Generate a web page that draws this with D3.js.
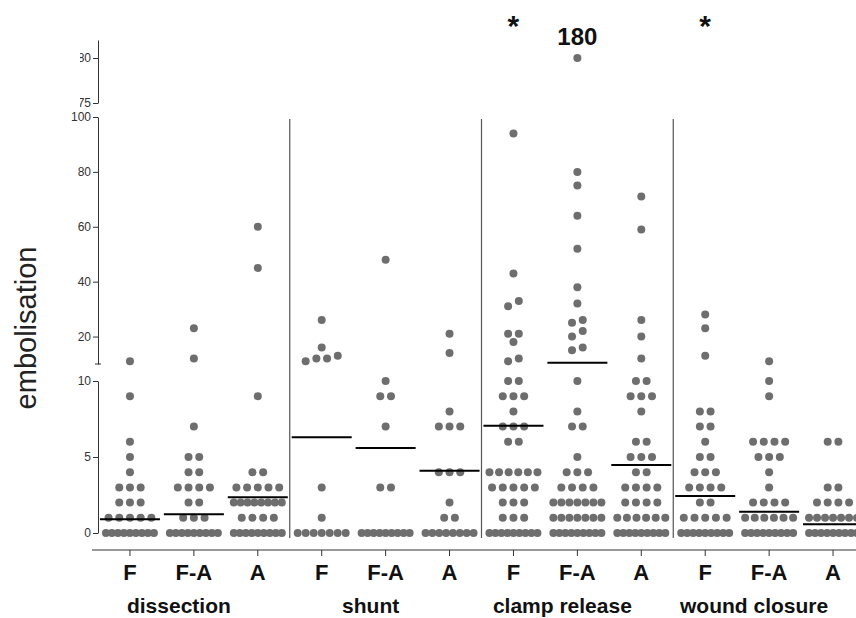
<!DOCTYPE html>
<html>
<head>
<meta charset="utf-8">
<script src="https://cdn.jsdelivr.net/npm/d3@7"></script>
<style>
  body { margin: 0; background: #fff; }
  svg { display: block; font-family: "Liberation Sans", Arial, Helvetica, sans-serif; }
</style>
</head>
<body>
<div id="chart"></div>
<script>
// Groups and sub-groups along the x axis
const groups = ["dissection", "shunt", "clamp release", "wound closure"];
const subgroups = ["F", "F-A", "A"];

// Embolisation counts per patient, one array per column
const dissectionF  = [0,0,0,0,0,0,0,0,0, 1,1,1,1,1, 2,2,2, 3,3,3, 4, 5, 6, 9, 11];
const dissectionFA = [0,0,0,0,0,0,0,0,0, 1,1,1, 2,2, 3,3,3,3, 4,4, 5,5, 7, 12, 23];
const dissectionA  = [0,0,0,0,0,0,0,0,0, 1,1,1,1, 2,2,2,2,2,2,2,2, 3,3,3,3,3, 4,4, 9, 45, 60];
const shuntF  = [0,0,0,0,0,0,0, 1, 3, 11, 12, 12, 13, 16, 26];
const shuntFA = [0,0,0,0,0,0,0,0,0, 3,3, 7, 9,9, 10, 48];
const shuntA  = [0,0,0,0,0,0,0,0, 1,1, 2, 4,4,4, 7,7,7, 8, 14, 21];
const clampF  = [0,0,0,0,0,0,0,0,0, 1,1,1, 2,2,2, 3,3,3,3,3, 4,4,4,4,4,4, 6,6, 7,7,7, 8, 9,9,9, 10,10, 11, 12, 18, 21, 21, 31, 33, 43, 94];
const clampFA = [0,0,0,0,0,0,0,0,0, 1,1,1,1,1,1,1, 2,2,2,2,2,2,2, 3,3,3,3, 4,4,4, 5, 7,7, 8, 10, 15, 16, 20, 22, 25, 26, 32, 38, 52, 64, 75, 80, 180];
const clampA  = [0,0,0,0,0,0,0,0,0, 1,1,1,1,1,1, 2,2,2,2, 3,3,3,3, 4,4, 5,5,5, 6,6, 8, 9,9,9, 10,10, 12, 20, 26, 59, 71];
const woundF  = [0,0,0,0,0,0,0,0,0, 1,1,1,1,1, 2,2, 3,3,3,3, 4,4,4, 5,5, 6, 7,7, 8,8, 13, 23, 28];
const woundFA = [0,0,0,0,0,0,0,0,0, 1,1,1,1,1,1, 2,2,2,2, 3, 4, 5,5,5, 6,6,6,6, 9, 10, 11];
const woundA  = [0,0,0,0,0,0,0,0,0, 1,1,1,1,1,1,1, 2,2,2,2, 3,3, 6,6];

// Horizontal bars (group means) per column
const means = [0.9, 1.23, 2.35, 6.3, 5.6, 4.1, 7.05, 10.5, 4.47, 2.43, 1.4, 0.57];

// Broken y axis segments and their ticks
const lowTicks = [0, 5, 10];
const midTicks = [20, 40, 60, 80, 100];
const topTicks = [75, 180];

// Annotations
const starColumns = ["clamp release|F", "wound closure|F"];
const outlierLabel = { column: "clamp release|F-A", text: "180" };

const columnValues = [
  dissectionF, dissectionFA, dissectionA,
  shuntF, shuntFA, shuntA,
  clampF, clampFA, clampA,
  woundF, woundFA, woundA
];

const width = 856, height = 618;
const columns = [];
groups.forEach(g => subgroups.forEach(s => columns.push(g + "|" + s)));

const svg = d3.select("#chart").append("svg")
  .attr("width", width)
  .attr("height", height);

// Scales
const x = d3.scaleBand().domain(columns).range([98, 865]);
const cx = k => x(k) + x.bandwidth() / 2;

const yLow = d3.scaleLinear().domain([0, 10]).range([533, 381]);
const yMid = d3.scaleLinear().domain([10, 100]).range([364, 117]);
const yTop = d3.scaleLinear().domain([75, 222]).range([103, 40]);
const yPos = v => v > 100 ? yTop(v) : (v > 10 ? yMid(v) : yLow(v));

// Group separators
svg.append("g")
  .selectAll("line")
  .data(groups.slice(1))
  .join("line")
  .attr("x1", g => x(g + "|F"))
  .attr("x2", g => x(g + "|F"))
  .attr("y1", 119)
  .attr("y2", 538)
  .attr("stroke", "#555")
  .attr("stroke-width", 1.2);

// Y axis segments
function drawAxis(scale, ticks) {
  const g = svg.append("g")
    .attr("transform", "translate(98,0)")
    .call(d3.axisLeft(scale).tickValues(ticks).tickSize(5).tickSizeOuter(0).tickPadding(2));
  g.select(".domain").attr("stroke", "#333");
  g.selectAll(".tick line").attr("stroke", "#333");
  g.selectAll(".tick text")
    .attr("fill", "#333")
    .style("font-size", "12px")
    .style("font-family", "'Liberation Sans', Arial, sans-serif");
  return g;
}
drawAxis(yLow, lowTicks);
drawAxis(yMid, midTicks);

// the top label is cut off on its left in the original figure
svg.append("clipPath").attr("id", "topclip")
  .append("rect").attr("x", -18).attr("y", 0).attr("width", 30).attr("height", 110);
drawAxis(yTop, topTicks).attr("clip-path", "url(#topclip)");

// small break end mark
svg.append("line")
  .attr("x1", 95).attr("x2", 101)
  .attr("y1", yMid(10)).attr("y2", yMid(10))
  .attr("stroke", "#333");

// Y label
svg.append("text")
  .attr("transform", "translate(36,328) rotate(-90)")
  .attr("text-anchor", "middle")
  .attr("fill", "#222")
  .style("font-size", "29px")
  .text("embolisation");

// Dots: values that sit within one dot of each other share a row
const dots = [];
columns.forEach((k, i) => {
  const pts = columnValues[i].slice().sort((a, b) => a - b).map(v => ({ v, y: yPos(v) }));
  const rows = [];
  pts.forEach(p => {
    const last = rows[rows.length - 1];
    if (last && Math.abs(last[0].y - p.y) < 7) last.push(p);
    else rows.push([p]);
  });
  rows.forEach(row => {
    const n = row.length;
    const step = n > 1 ? Math.min(10.7, 48 / (n - 1)) : 0;
    row.forEach((p, j) => dots.push({ x: cx(k) + (j - (n - 1) / 2) * step, y: p.y }));
  });
});

svg.append("g")
  .selectAll("circle")
  .data(dots)
  .join("circle")
  .attr("cx", d => d.x)
  .attr("cy", d => d.y)
  .attr("r", 4)
  .attr("fill", "#6e6e6e");

// Mean bars
svg.append("g")
  .selectAll("line")
  .data(columns)
  .join("line")
  .attr("x1", (k) => cx(k) - 30)
  .attr("x2", (k) => cx(k) + 30)
  .attr("y1", (k, i) => yPos(means[i]))
  .attr("y2", (k, i) => yPos(means[i]))
  .attr("stroke", "#000")
  .attr("stroke-width", 2);

// X axis
svg.append("line")
  .attr("x1", 92).attr("x2", width)
  .attr("y1", 550).attr("y2", 550)
  .attr("stroke", "#333");

const xAxis = svg.append("g")
  .attr("transform", "translate(0,550)")
  .call(d3.axisBottom(x).tickSize(6).tickPadding(8).tickFormat(k => k.split("|")[1]));
xAxis.select(".domain").remove();
xAxis.selectAll(".tick line").attr("stroke", "#333");
xAxis.selectAll(".tick text")
  .attr("fill", "#111")
  .style("font-size", "22px")
  .style("font-weight", "bold")
  .style("font-family", "'Liberation Sans', Arial, sans-serif");

// Group labels
svg.append("g")
  .selectAll("text")
  .data(groups)
  .join("text")
  .attr("x", g => cx(g + "|F-A") - 15)
  .attr("y", 613)
  .attr("text-anchor", "middle")
  .attr("fill", "#111")
  .style("font-size", "21px")
  .style("font-weight", "bold")
  .text(g => g);

// Significance stars and outlier value
svg.append("g")
  .selectAll("text")
  .data(starColumns)
  .join("text")
  .attr("x", k => cx(k))
  .attr("y", 36)
  .attr("text-anchor", "middle")
  .attr("fill", "#111")
  .style("font-size", "30px")
  .style("font-weight", "bold")
  .text("*");

svg.append("text")
  .attr("x", cx(outlierLabel.column))
  .attr("y", 45)
  .attr("text-anchor", "middle")
  .attr("fill", "#111")
  .style("font-size", "24px")
  .style("font-weight", "bold")
  .text(outlierLabel.text);
</script>
</body>
</html>
